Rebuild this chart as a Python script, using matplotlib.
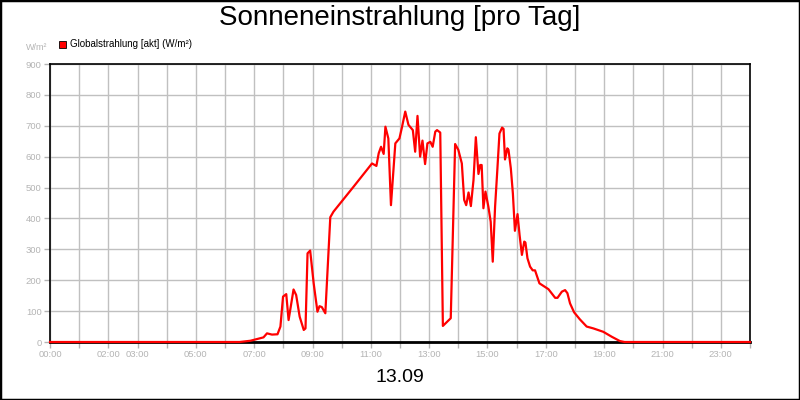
import matplotlib
matplotlib.use("Agg")
import matplotlib.pyplot as plt
from matplotlib.patches import Rectangle

plt.rcParams['font.family'] = ['Liberation Sans', 'DejaVu Sans']

# Time of day in hours and global radiation in W/m²
hours = [0, 6.5, 6.87, 7.32, 7.44, 7.61, 7.80, 7.90, 7.99, 8.10, 8.18, 8.35, 8.44,
         8.56, 8.70, 8.76, 8.83, 8.92, 9.04, 9.17, 9.24, 9.32, 9.44, 9.61, 9.72,
         10.41, 11.04, 11.19, 11.27, 11.35, 11.44, 11.50, 11.60, 11.69, 11.84,
         11.98, 12.06, 12.18, 12.29, 12.44, 12.52, 12.60, 12.69, 12.77, 12.86,
         12.94, 13.04, 13.12, 13.21, 13.27, 13.38, 13.47, 13.74, 13.89, 14.0,
         14.12, 14.20, 14.27, 14.35, 14.43, 14.52, 14.60, 14.69, 14.75, 14.80,
         14.86, 14.93, 15.03, 15.11, 15.18, 15.26, 15.34, 15.41, 15.50, 15.55,
         15.60, 15.68, 15.72, 15.80, 15.87, 15.94, 16.03, 16.10, 16.18, 16.26,
         16.30, 16.37, 16.46, 16.55, 16.63, 16.78, 17.09, 17.32, 17.40, 17.55,
         17.66, 17.74, 17.83, 17.97, 18.17, 18.40, 18.63, 18.97, 19.26, 19.54,
         19.7, 24]
radiation = [0, 0, 4, 15, 28, 24, 25, 50, 147, 155, 71, 170, 152,
             82, 39, 44, 287, 296, 190, 98, 116, 113, 93, 404, 422,
             503, 578, 570, 611, 632, 609, 697, 659, 443, 643,
             659, 692, 746, 703, 686, 616, 732, 600, 652, 576,
             643, 648, 632, 681, 686, 678, 52, 77, 641, 622,
             578, 460, 443, 484, 440, 524, 663, 544, 573, 573,
             433, 487, 438, 389, 260, 438, 562, 675, 694, 690,
             591, 627, 622, 562, 481, 360, 414, 346, 282, 325,
             322, 271, 244, 232, 232, 190, 171, 143, 143, 163,
             168, 158, 125, 96, 73, 50, 44, 33, 17, 3,
             0, 0]

label_hours = [0, 2, 3, 5, 7, 9, 11, 13, 15, 17, 19, 21, 23]
y_ticks = list(range(0, 901, 100))

gray = '#b4b4b4'

fig = plt.figure(figsize=(8, 4), dpi=100)
ax = fig.add_axes([50 / 800, 58 / 400, 700 / 800, 278 / 400])

ax.plot(hours, radiation, color='#ff0000', lw=1.6, zorder=3, clip_on=False)

ax.set_xlim(0, 24)
ax.set_ylim(0, 900)
ax.set_xticks(range(0, 25))
ax.set_xticklabels([f"{h:02d}:00" if h in label_hours else "" for h in range(0, 25)])
ax.set_yticks(y_ticks)
ax.grid(True, color='#c0c0c0', lw=1)
ax.set_axisbelow(True)
ax.tick_params(colors=gray, labelsize=6.8, length=4, width=1, pad=2)
for s in ax.spines.values():
    s.set_color('black')
    s.set_linewidth(1.2)
ax.spines['bottom'].set_linewidth(2)

fig.text(0.5, 1 - 18 / 400, "Sonneneinstrahlung [pro Tag]", ha='center', va='center', fontsize=20)
fig.text(0.5, 1 - 378 / 400, "13.09", ha='center', va='center', fontsize=14)
fig.text(47 / 800, 1 - 48 / 400, "W/m²", ha='right', va='center', fontsize=6.5, color=gray)
fig.patches.append(Rectangle((59 / 800, 1 - 48 / 400), 7 / 800, 7 / 400, transform=fig.transFigure,
                             facecolor='#ff0000', edgecolor='black', lw=0.6))
fig.text(70 / 800, 1 - 44 / 400, "Globalstrahlung [akt] (W/m²)", ha='left', va='center', fontsize=7)
fig.patches.append(Rectangle((0, 0), 1, 1, transform=fig.transFigure, fill=False,
                             edgecolor='black', lw=2.5))

fig.savefig("out.png", dpi=100)
